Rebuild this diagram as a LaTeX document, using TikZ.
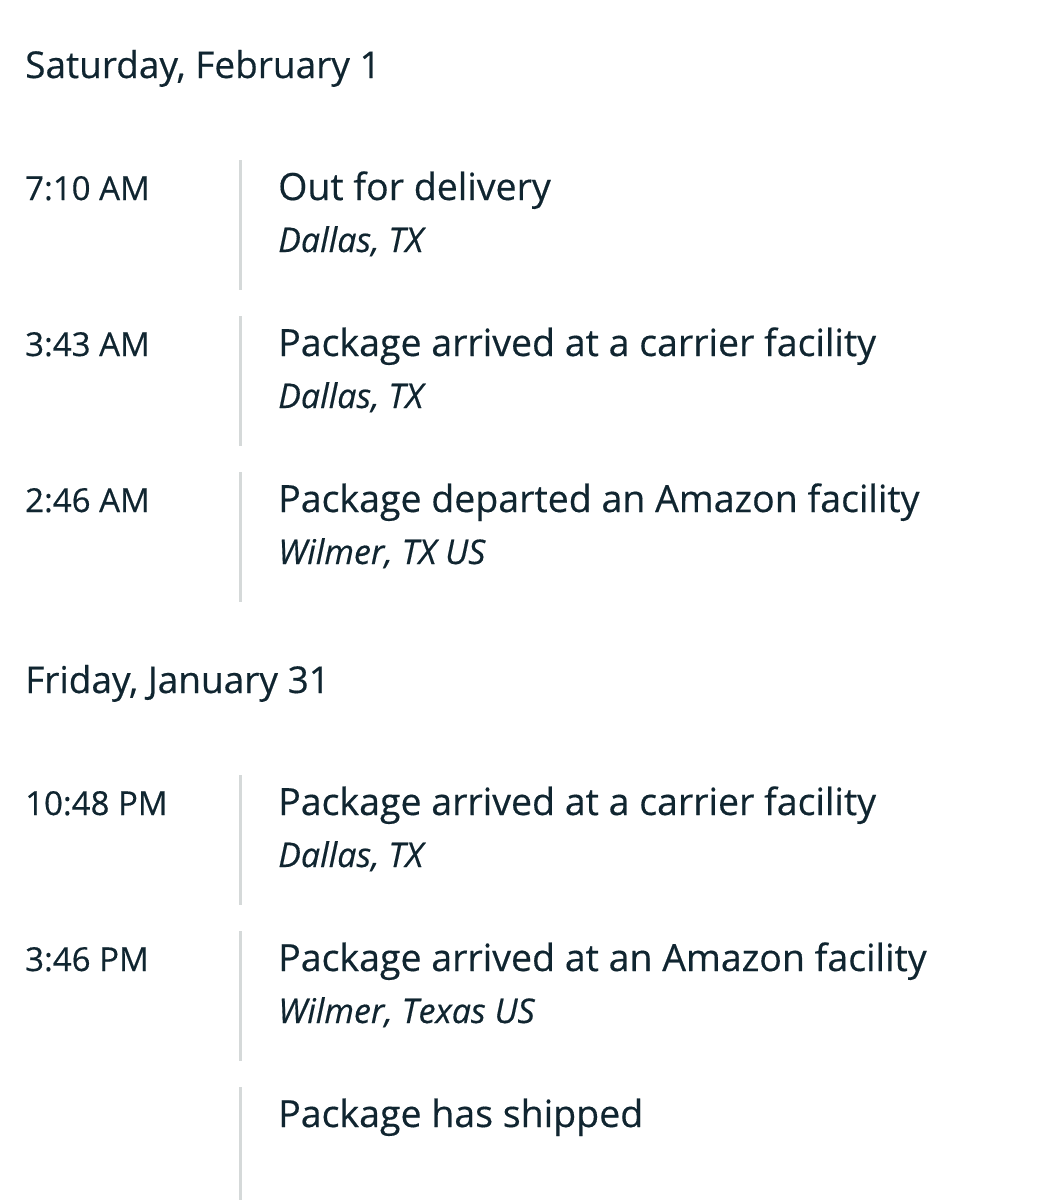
\documentclass[tikz,border=0pt]{standalone}
\usepackage{fontspec}
\setmainfont{Open Sans}[UprightFeatures={FakeBold=0.4},ItalicFeatures={FakeBold=0.4}]
\usepackage{xcolor}
\usepackage{tikz}
\definecolor{ink}{HTML}{102530}
\definecolor{rule}{HTML}{D5D9D9}

\begin{document}
\begin{tikzpicture}[x=1pt,y=-1pt]
    \def\dy{156}
    \def\dd{615}

    \useasboundingbox (0,0) rectangle (1062,1200);

    \tikzstyle{day}=[anchor=base west,inner sep=0pt,text=ink,font=\fontsize{37}{44}\selectfont]
    \tikzstyle{time}=[anchor=base west,inner sep=0pt,text=ink,font=\fontsize{33}{40}\selectfont]
    \tikzstyle{event}=[anchor=base west,inner sep=0pt,text=ink,font=\fontsize{37.5}{45}\selectfont]
    \tikzstyle{place}=[anchor=base west,inner sep=0pt,text=ink,font=\fontsize{34}{40}\itshape]

    \node[day]  (sat) at (25,78) {Saturday, February 1};

    \node[time]  (t1) at (25,200) {7:10 AM};
    \node[event] (e1) at (278,200) {Out for delivery};
    \node[place] (p1) at (278,252) {Dallas, TX};

    \node[time]  (t2) at (25,1*\dy+200) {3:43 AM};
    \node[event] (e2) at (278,1*\dy+200) {Package arrived at a carrier facility};
    \node[place] (p2) at (278,1*\dy+252) {Dallas, TX};

    \node[time]  (t3) at (25,2*\dy+200) {2:46 AM};
    \node[event] (e3) at (278,2*\dy+200) {Package departed an Amazon facility};
    \node[place] (p3) at (278,2*\dy+252) {Wilmer, TX US};

    \node[day]  (fri) at (25,\dd+78) {Friday, January 31};

    \node[time]  (t4) at (25,\dd+200) {10:48 PM};
    \node[event] (e4) at (278,\dd+200) {Package arrived at a carrier facility};
    \node[place] (p4) at (278,\dd+252) {Dallas, TX};

    \node[time]  (t5) at (25,\dd+1*\dy+200) {3:46 PM};
    \node[event] (e5) at (278,\dd+1*\dy+200) {Package arrived at an Amazon facility};
    \node[place] (p5) at (278,\dd+1*\dy+252) {Wilmer, Texas US};

    \node[event] (e6) at (278,\dd+2*\dy+200) {Package has shipped};

    % timeline bars
    \tikzstyle{bar} = [draw=rule, line width=3pt]

    \coordinate (b1a) at (240,160);             \coordinate (b1b) at (240,290);
    \coordinate (b2a) at (240,1*\dy+160);       \coordinate (b2b) at (240,1*\dy+290);
    \coordinate (b3a) at (240,2*\dy+160);       \coordinate (b3b) at (240,2*\dy+290);
    \coordinate (b4a) at (240,\dd+160);         \coordinate (b4b) at (240,\dd+290);
    \coordinate (b5a) at (240,\dd+1*\dy+160);   \coordinate (b5b) at (240,\dd+1*\dy+290);
    \coordinate (b6a) at (240,\dd+2*\dy+160);   \coordinate (b6b) at (240,1200);

          \draw [bar] (b1a) -- (b1b);
          \draw [bar] (b2a) -- (b2b);
          \draw [bar] (b3a) -- (b3b);
          \draw [bar] (b4a) -- (b4b);
          \draw [bar] (b5a) -- (b5b);
          \draw [bar] (b6a) -- (b6b);

  \end{tikzpicture}
\end{document}
